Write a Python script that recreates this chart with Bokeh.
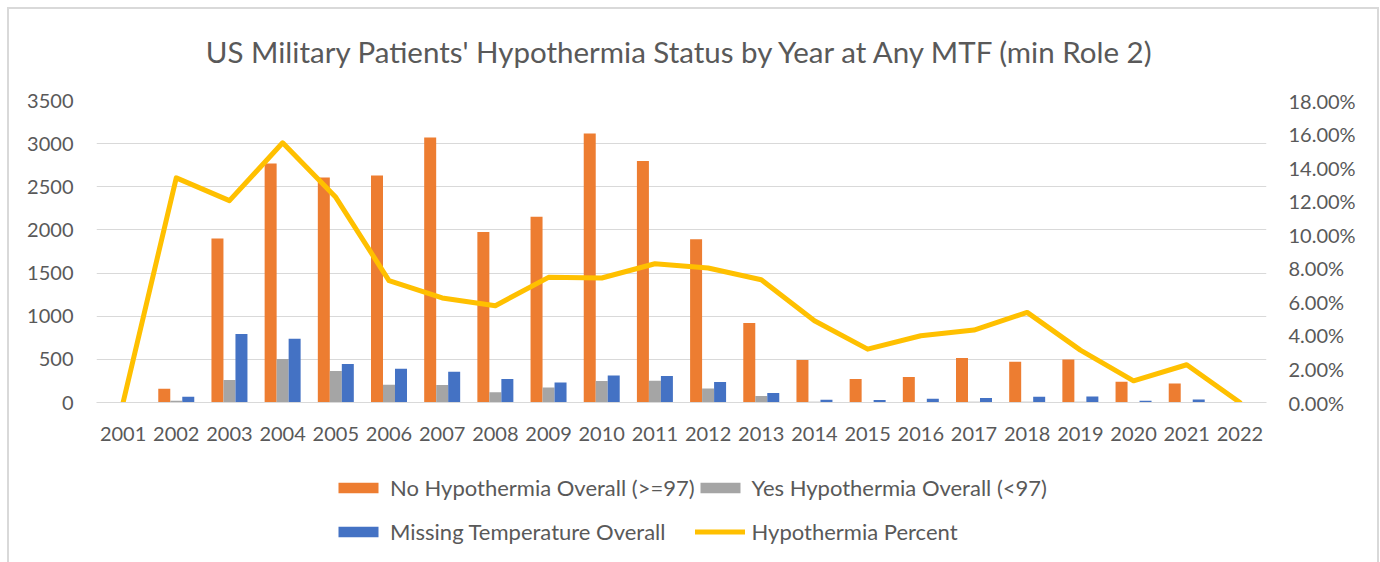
from bokeh.plotting import figure
from bokeh.layouts import column
from bokeh.models import (FactorRange, Range1d, LinearAxis, FixedTicker, PrintfTickFormatter,
                          ColumnDataSource, Legend, LegendItem)
from bokeh.transform import dodge
from bokeh.embed import file_html
from bokeh.resources import INLINE

years = [str(y) for y in range(2001, 2023)]
no_hypo = [0, 160, 1900, 2770, 2607, 2630, 3071, 1977, 2154, 3117, 2800, 1891, 921,
           492, 271, 295, 515, 472, 499, 240, 220, 5]
yes_hypo = [0, 20, 260, 503, 364, 205, 202, 120, 174, 248, 252, 162, 74,
            10, 5, 5, 10, 10, 10, 5, 5, 0]
missing = [0, 66, 793, 739, 445, 391, 356, 271, 232, 313, 306, 237, 109,
           31, 28, 43, 51, 66, 70, 20, 35, 0]
hypo_pct = [0.0, 13.39, 12.03, 15.48, 12.23, 7.26, 6.23, 5.77, 7.46, 7.42, 8.27, 8.02, 7.32,
            4.87, 3.18, 3.98, 4.32, 5.37, 3.12, 1.29, 2.25, 0.0]

series_names = ["No Hypothermia Overall (>=97)", "Yes Hypothermia Overall (<97)",
                "Missing Temperature Overall", "Hypothermia Percent"]
left_ticks = [0, 500, 1000, 1500, 2000, 2500, 3000, 3500]
right_ticks = [0, 2, 4, 6, 8, 10, 12, 14, 16, 18]

FONT = "Lato"
TXT = "#595959"
ORANGE, GRAY, BLUE, GOLD = "#ED7D31", "#A5A5A5", "#4472C4", "#FFC000"
BORDER = "#d9d9d9"

src = ColumnDataSource(dict(year=years, no=no_hypo, yes=yes_hypo, miss=missing, pct=hypo_pct))

W = 1380
H_MAIN = 452
H_LEG = 110
w = 0.2256


def add_series(fig, y_name):
    a = fig.vbar(x=dodge("year", -w, range=fig.x_range), top="no", width=w, source=src,
                 fill_color=ORANGE, line_color=None)
    b = fig.vbar(x=dodge("year", 0, range=fig.x_range), top="yes", width=w, source=src,
                 fill_color=GRAY, line_color=None)
    c = fig.vbar(x=dodge("year", w, range=fig.x_range), top="miss", width=w, source=src,
                 fill_color=BLUE, line_color=None)
    d = fig.line(x="year", y="pct", source=src, y_range_name=y_name, line_color=GOLD,
                 line_width=5, line_join="round", line_cap="round")
    return a, b, c, d


p = figure(width=W, height=H_MAIN, x_range=FactorRange(*years, range_padding=0),
           y_range=Range1d(0, 3500), output_backend="svg", toolbar_location=None,
           min_border_left=96, min_border_right=114, min_border_top=100, min_border_bottom=50,
           border_fill_color=None, background_fill_color=None)
p.extra_y_ranges = {"pct": Range1d(0, 18)}

p.title.text = "US Military Patients' Hypothermia Status by Year at Any MTF (min Role 2)"
p.title.align = "center"
p.title.vertical_align = "top"
p.title.text_font = FONT
p.title.text_font_size = "29.5px"
p.title.text_font_style = "normal"
p.title.text_color = TXT
p.title.standoff = 60

add_series(p, "pct")

p.xaxis.axis_line_color = BORDER
p.xaxis.major_tick_line_color = None
p.xaxis.minor_tick_line_color = None
p.xaxis.major_label_text_font = FONT
p.xaxis.major_label_text_font_size = "20px"
p.xaxis.major_label_text_color = TXT
p.xaxis.major_label_standoff = 18

p.yaxis.ticker = FixedTicker(ticks=left_ticks)
p.yaxis.axis_line_color = None
p.yaxis.major_tick_line_color = None
p.yaxis.minor_tick_line_color = None
p.yaxis.major_label_text_font = FONT
p.yaxis.major_label_text_font_size = "20px"
p.yaxis.major_label_text_color = TXT
p.yaxis.major_label_standoff = 17

ax2 = LinearAxis(y_range_name="pct", ticker=FixedTicker(ticks=right_ticks),
                 formatter=PrintfTickFormatter(format="%.2f%%"))
ax2.axis_line_color = None
ax2.major_tick_line_color = None
ax2.minor_tick_line_color = None
ax2.major_label_text_font = FONT
ax2.major_label_text_font_size = "20px"
ax2.major_label_text_color = TXT
ax2.major_label_standoff = 16
p.add_layout(ax2, "right")

p.xgrid.grid_line_color = None
p.ygrid.ticker = FixedTicker(ticks=left_ticks)
p.ygrid.grid_line_color = BORDER
p.ygrid.grid_line_width = 1
p.outline_line_color = None

# legend strip: same series, drawn below its visible range, used only as legend proxies
lg = figure(width=W, height=H_LEG, x_range=p.x_range, y_range=Range1d(100000, 100001),
            output_backend="svg", toolbar_location=None, min_border=0,
            border_fill_color=None, background_fill_color=None)
lg.extra_y_ranges = {"pct": Range1d(1000, 1001)}
lg.axis.visible = False
lg.grid.grid_line_color = None
lg.outline_line_color = None
d1, d2, d3, d4 = add_series(lg, "pct")

# column-major fill: col 1 = No / Missing, col 2 = Yes / Percent
legend = Legend(items=[LegendItem(label=series_names[0], renderers=[d1]),
                       LegendItem(label=series_names[2], renderers=[d3]),
                       LegendItem(label=series_names[1], renderers=[d2]),
                       LegendItem(label=series_names[3], renderers=[d4])],
                ncols=2, location=(237, 9))
legend.glyph_width = 50
legend.glyph_height = 13
legend.label_standoff = 7
legend.label_text_font = FONT
legend.label_text_font_size = "22px"
legend.label_text_color = TXT
legend.border_line_color = None
legend.background_fill_alpha = 0
legend.padding = 0
legend.margin = 0
legend.spacing = 0
legend.label_height = 44
legend.label_width = 290
lg.add_layout(legend, "center")

g = "linear-gradient(#d9d9d9,#d9d9d9)"
bg = (f"{g} 7px 7px / 2px 700px no-repeat, "
      f"{g} 7px 7px / 1371px 2px no-repeat, "
      f"{g} 1377px 7px / 2px 700px no-repeat, #ffffff")
layout = column(p, lg, spacing=0, styles={"background": bg})
open("out.html", "w").write(file_html(layout, INLINE))
